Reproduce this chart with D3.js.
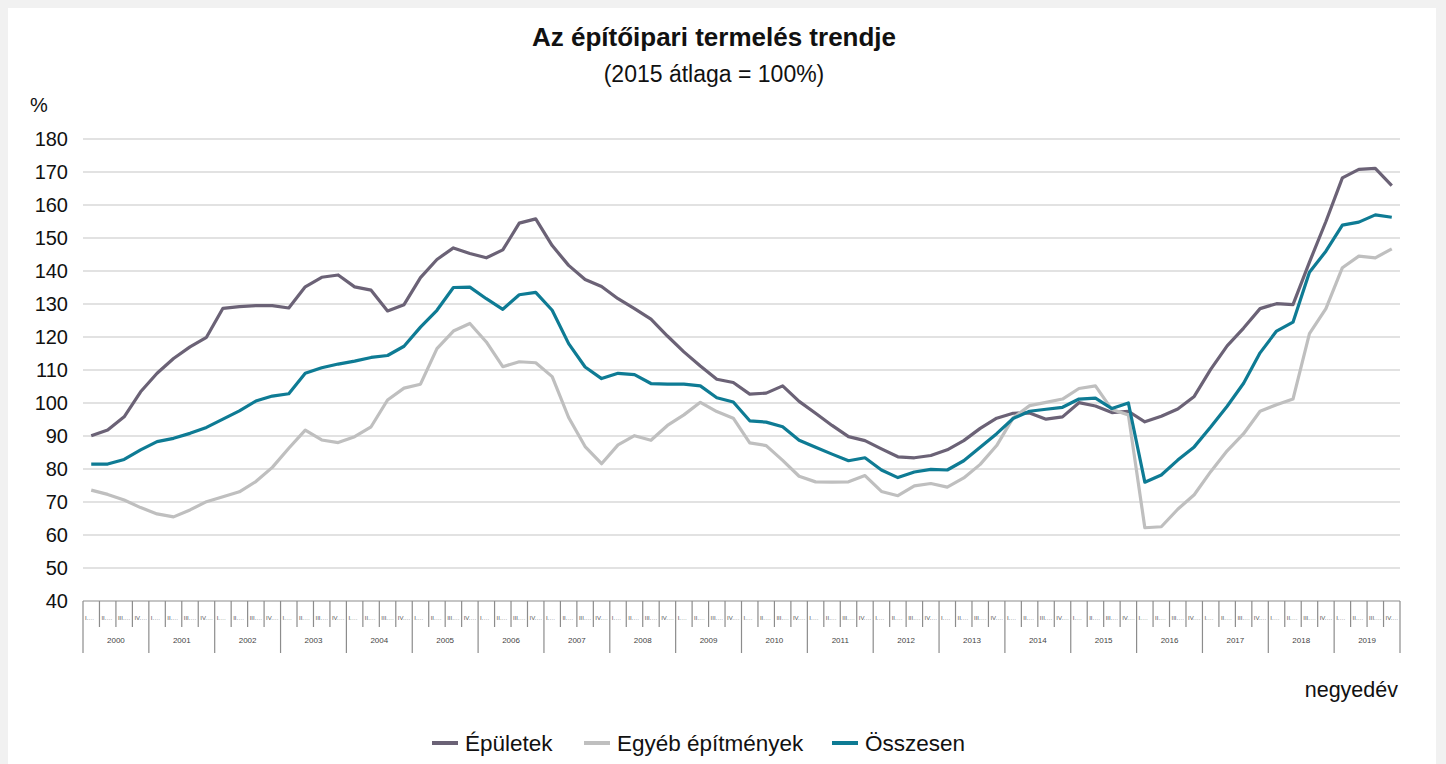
<!DOCTYPE html>
<html>
<head>
<meta charset="utf-8">
<script src="https://cdn.jsdelivr.net/npm/d3@7/dist/d3.min.js"></script>
<style>
  body { margin: 0; background: #f1f1f1; }
  svg { display: block; font-family: "Liberation Sans", Arial, sans-serif; }
</style>
</head>
<body>
<div id="chart"></div>
<script>
// years and quarters on the category axis
var years = d3.range(2000, 2020);
var quarters = ["I.", "II.", "III.", "IV."];
var yTicks = [40, 50, 60, 70, 80, 90, 100, 110, 120, 130, 140, 150, 160, 170, 180];

// Épületek
var epuletek = [
  90.1, 91.8, 95.8, 103.4, 109, 113.5, 117, 119.9, 128.7, 129.2,
  129.5, 129.5, 128.8, 135.2, 138.1, 138.8, 135.2, 134.2, 127.9, 129.8,
  138, 143.5, 147, 145.3, 144, 146.4, 154.5, 155.8, 147.7, 141.7,
  137.4, 135.3, 131.6, 128.6, 125.4, 120.3, 115.5, 111.2, 107.2, 106.2,
  102.7, 103, 105.2, 100.5, 96.9, 93.2, 89.8, 88.6, 86.1, 83.7,
  83.4, 84.1, 85.8, 88.6, 92.3, 95.4, 96.9, 97, 95.1, 95.8,
  100.1, 99.1, 97.1, 97.5, 94.3, 96, 98.2, 102, 110.2, 117.3,
  122.7, 128.6, 130.1, 129.8, 142.7, 155, 168.2, 170.8, 171.1, 165.9
];

// Egyéb építmények
var egyeb = [
  73.6, 72.3, 70.6, 68.3, 66.4, 65.5, 67.6, 70.1, 71.6, 73.1,
  76.2, 80.5, 86.3, 91.8, 88.8, 88, 89.8, 92.8, 100.9, 104.5,
  105.7, 116.5, 121.8, 124.1, 118.5, 111, 112.5, 112.2, 108, 95.6,
  86.8, 81.6, 87.3, 90.1, 88.7, 93.2, 96.4, 100.2, 97.4, 95.4,
  87.9, 87.1, 82.6, 77.8, 76.1, 76, 76.1, 78, 73.2, 71.9,
  74.9, 75.6, 74.5, 77.3, 81.4, 87.1, 95.5, 99.2, 100.2, 101.2,
  104.4, 105.2, 98, 96.4, 62.2, 62.5, 67.8, 72.2, 79.2, 85.5,
  90.7, 97.5, 99.5, 101.2, 121, 128.6, 141, 144.5, 144, 146.7
];

// Összesen
var osszesen = [
  81.5, 81.5, 82.9, 85.8, 88.3, 89.3, 90.8, 92.6, 95.1, 97.6,
  100.6, 102.1, 102.8, 109, 110.7, 111.8, 112.7, 113.8, 114.4, 117.2,
  123, 128.1, 135, 135.1, 131.6, 128.4, 132.8, 133.5, 128.1, 118,
  110.9, 107.4, 109, 108.6, 105.9, 105.7, 105.7, 105.2, 101.6, 100.3,
  94.6, 94.2, 92.8, 88.7, 86.6, 84.5, 82.5, 83.4, 79.7, 77.4,
  79.1, 79.9, 79.7, 82.5, 86.6, 90.7, 95.3, 97.5, 98.1, 98.7,
  101.2, 101.5, 98.3, 100, 76, 78.2, 82.7, 86.7, 92.7, 99,
  106, 115.2, 121.8, 124.5, 139.6, 146, 153.9, 154.8, 157, 156.3
];

var seriesNames = ["Épületek", "Egyéb építmények", "Összesen"];
var seriesColors = ["#6b6276", "#bfbfbf", "#0e7b94"];

var W = 1446, H = 764;
var plotLeft = 83, plotRight = 1400, plotTop = 139, plotBottom = 601;

var svg = d3.select("#chart").append("svg")
  .attr("width", W)
  .attr("height", H);

// white panel
svg.append("rect")
  .attr("x", 8).attr("y", 8)
  .attr("width", 1428).attr("height", H - 8)
  .attr("fill", "#fff");

// title
svg.append("text")
  .attr("x", 714).attr("y", 46)
  .attr("text-anchor", "middle")
  .style("font-size", "26px")
  .style("font-weight", "bold")
  .attr("fill", "#111")
  .text("Az építőipari termelés trendje");

svg.append("text")
  .attr("x", 714).attr("y", 82)
  .attr("text-anchor", "middle")
  .style("font-size", "23px")
  .attr("fill", "#111")
  .text("(2015 átlaga = 100%)");

// quarter keys
var keys = [];
years.forEach(function (yr) {
  quarters.forEach(function (q) { keys.push(yr + q); });
});

var x = d3.scaleBand()
  .domain(keys)
  .range([plotLeft, plotRight])
  .padding(0);

var y = d3.scaleLinear()
  .domain([40, 180])
  .range([plotBottom, plotTop]);

// gridlines
svg.append("g")
  .selectAll("line")
  .data(yTicks.slice(1))
  .enter().append("line")
  .attr("x1", plotLeft).attr("x2", plotRight)
  .attr("y1", function (d) { return y(d); })
  .attr("y2", function (d) { return y(d); })
  .attr("stroke", "#d9d9d9")
  .attr("stroke-width", 1.5);

// Y axis labels
var yAxis = svg.append("g")
  .attr("transform", "translate(" + (plotLeft - 15) + ",0)")
  .call(d3.axisLeft(y).tickValues(yTicks).tickSize(0).tickPadding(0));
yAxis.select(".domain").remove();
yAxis.selectAll("text")
  .style("font-size", "20px")
  .style("font-family", "Liberation Sans, Arial, sans-serif")
  .attr("fill", "#111");

svg.append("text")
  .attr("x", 30).attr("y", 112)
  .style("font-size", "20px")
  .attr("fill", "#111")
  .text("%");

// X axis: base line, quarter ticks, year ticks
var axisG = svg.append("g");
axisG.append("line")
  .attr("x1", plotLeft).attr("x2", plotRight)
  .attr("y1", plotBottom).attr("y2", plotBottom)
  .attr("stroke", "#8c8c8c").attr("stroke-width", 1.2);

axisG.selectAll(".qtick")
  .data(keys)
  .enter().append("line")
  .attr("class", "qtick")
  .attr("x1", function (d) { return x(d); })
  .attr("x2", function (d) { return x(d); })
  .attr("y1", plotBottom)
  .attr("y2", function (d, i) { return i % 4 === 0 ? 653 : 627; })
  .attr("stroke", "#8c8c8c").attr("stroke-width", 1.2);

axisG.append("line")
  .attr("x1", plotRight).attr("x2", plotRight)
  .attr("y1", plotBottom).attr("y2", 653)
  .attr("stroke", "#8c8c8c").attr("stroke-width", 1.2);

axisG.selectAll(".qlab")
  .data(keys)
  .enter().append("text")
  .attr("class", "qlab")
  .attr("x", function (d) { return x(d) + 2; })
  .attr("y", 620)
  .style("font-size", "6px")
  .attr("fill", "#555")
  .text(function (d, i) { return quarters[i % 4] + "…"; });

axisG.selectAll(".ylab")
  .data(years)
  .enter().append("text")
  .attr("class", "ylab")
  .attr("x", function (d) { return x(d + "I.") + 2 * x.bandwidth(); })
  .attr("y", 643)
  .attr("text-anchor", "middle")
  .style("font-size", "8px")
  .attr("fill", "#444")
  .text(function (d) { return d; });

svg.append("text")
  .attr("x", 1398).attr("y", 697)
  .attr("text-anchor", "end")
  .style("font-size", "21.5px")
  .attr("fill", "#111")
  .text("negyedév");

// lines
var line = d3.line()
  .x(function (d, i) { return x(keys[i]) + x.bandwidth() / 2; })
  .y(function (d) { return y(d); });

[epuletek, egyeb, osszesen].forEach(function (data, k) {
  svg.append("path")
    .datum(data)
    .attr("d", line)
    .attr("fill", "none")
    .attr("stroke", seriesColors[k])
    .attr("stroke-width", 3.2)
    .attr("stroke-linejoin", "round");
});

// legend
var legendX = [432, 584, 832];
var legend = svg.append("g");
seriesNames.forEach(function (name, k) {
  legend.append("line")
    .attr("x1", legendX[k]).attr("x2", legendX[k] + 26)
    .attr("y1", 743).attr("y2", 743)
    .attr("stroke", seriesColors[k])
    .attr("stroke-width", 4);
  legend.append("text")
    .attr("x", legendX[k] + 33).attr("y", 751)
    .style("font-size", "22.5px")
    .attr("fill", "#111")
    .text(name);
});
</script>
</body>
</html>
